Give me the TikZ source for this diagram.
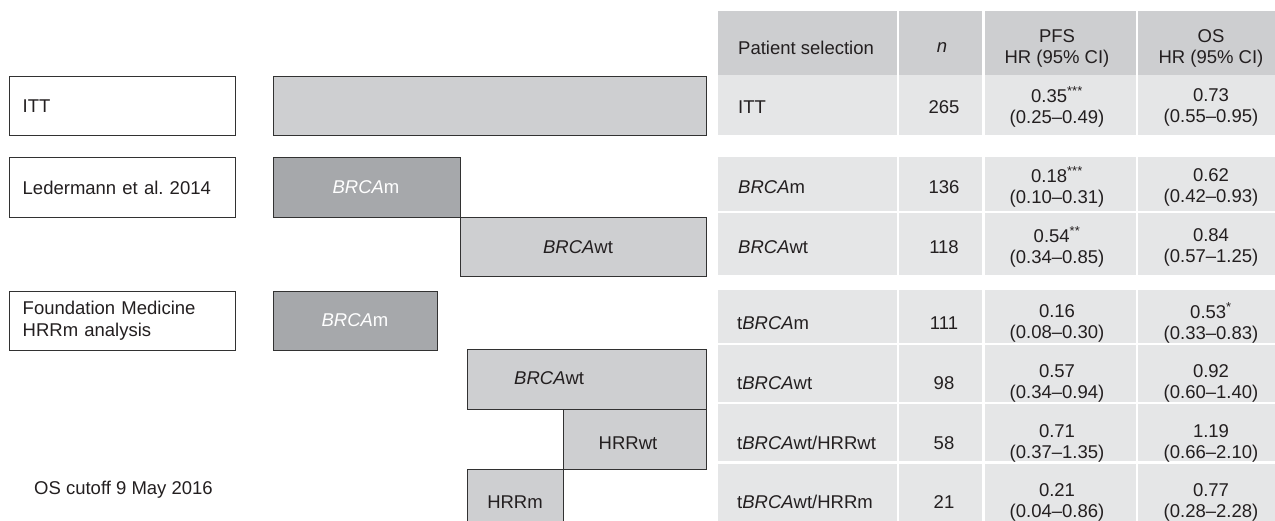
\documentclass[tikz,border=0pt]{standalone}
\usepackage{fontspec}
\setmainfont{Liberation Sans}
\definecolor{barlight}{RGB}{206,207,209}
\definecolor{bardark}{RGB}{166,168,171}
\definecolor{hdrgray}{RGB}{205,206,208}
\definecolor{bodygray}{RGB}{229,230,231}
\definecolor{edge}{RGB}{50,50,50}
\definecolor{ink}{RGB}{35,31,32}
\begin{document}
\frenchspacing
\begin{tikzpicture}[x=1bp,y=-1bp,
  font=\fontsize{18.5bp}{21bp}\selectfont, text=ink,
  lblbox/.style={draw=edge, line width=1.4bp, fill=white, anchor=north west,
    text width=200bp, inner xsep=13bp, inner ysep=0pt, align=left, minimum height=#1},
  bar/.style={draw=edge, line width=1.4bp, fill=barlight, anchor=north west, inner sep=0pt},
  darkbar/.style={bar, fill=bardark},
  cell/.style={fill=bodygray, anchor=north west, inner sep=0pt},
  hcell/.style={cell, fill=hdrgray},
  txt/.style={inner sep=0pt, align=center},
  ltxt/.style={inner sep=0pt, anchor=west},
  wtxt/.style={txt, text=white}
]
\useasboundingbox (0,0) rectangle (1275,521);

% left labels
\node[lblbox=59bp] (lITT) at (9,76) {ITT};
\node[lblbox=60bp] (lLed) at (9,157) {Ledermann et al.\ 2014};
\node[lblbox=59bp, font=\fontsize{18.5bp}{22bp}\selectfont] (lFM) at (9,291) {Foundation Medicine\\HRRm analysis};
\node[ltxt] (cutoff) at (34,490) {OS cutoff 9 May 2016};

% bars
\node[bar, minimum width=433bp, minimum height=59bp] (bITT) at (273,76) {};
\node[darkbar, minimum width=187bp, minimum height=60bp] (bLm) at (273,157) {};
\node[bar, minimum width=246bp, minimum height=59bp] (bLwt) at (460,217) {};
\node[darkbar, minimum width=164bp, minimum height=59bp] (bFm) at (273,291) {};
\node[bar, minimum width=239bp, minimum height=60bp] (bFwt) at (467,349) {};
\node[bar, minimum width=143bp, minimum height=60bp] (bHwt) at (563,409) {};
\node[bar, minimum width=96bp, minimum height=62bp] (bHm) at (467,469) {};

\node[wtxt] (tLm) at (366,187) {\textit{BRCA}m};
\node[txt] (tLwt) at (578,247) {\textit{BRCA}wt};
\node[wtxt] (tFm) at (355,320) {\textit{BRCA}m};
\node[ltxt] (tFwt) at (514,378) {\textit{BRCA}wt};
\node[txt] (tHwt) at (628,443) {HRRwt};
\node[txt] (tHm) at (515,502) {HRRm};

% table header
\node[hcell, minimum width=179bp, minimum height=64bp] (h1) at (718,11) {};
\node[hcell, minimum width=83bp, minimum height=64bp] (h2) at (899,11) {};
\node[hcell, minimum width=151bp, minimum height=64bp] (h3) at (985,11) {};
\node[hcell, minimum width=150bp, minimum height=64bp] (h4) at (1138,11) {};

% table body cells
\foreach \y/\h/\r in {75/60/a, 157/54/b, 213/62/c, 290/53/d, 345/57/e, 404/57/f, 464/58/g}{
  \node[cell, minimum width=179bp, minimum height=\h bp] (c\r1) at (718,\y) {};
  \node[cell, minimum width=83bp, minimum height=\h bp] (c\r2) at (899,\y) {};
  \node[cell, minimum width=151bp, minimum height=\h bp] (c\r3) at (985,\y) {};
  \node[cell, minimum width=150bp, minimum height=\h bp] (c\r4) at (1138,\y) {};
}

% header text
\node[ltxt] (hp) at (738,47.5) {Patient selection};
\node[txt] (hn) at (942,47.5) {\textit{n}};
\node[txt] (hpfs) at (1057,48.5) {PFS\\HR (95\% CI)};
\node[txt] (hos) at (1211,48.5) {OS\\HR (95\% CI)};

% rows
\node[ltxt] (ra1) at (738,107) {ITT};
\node[txt] (ra2) at (944,107) {265};
\node[txt] (ra3) at (1057,107) {0.35\textsuperscript{***}\\(0.25–0.49)};
\node[txt] (ra4) at (1211,107) {0.73\\(0.55–0.95)};

\node[ltxt] (rb1) at (738,187) {\textit{BRCA}m};
\node[txt] (rb2) at (944,187) {136};
\node[txt] (rb3) at (1057,187) {0.18\textsuperscript{***}\\(0.10–0.31)};
\node[txt] (rb4) at (1211,187) {0.62\\(0.42–0.93)};

\node[ltxt] (rc1) at (738,247) {\textit{BRCA}wt};
\node[txt] (rc2) at (944,247) {118};
\node[txt] (rc3) at (1057,247) {0.54\textsuperscript{**}\\(0.34–0.85)};
\node[txt] (rc4) at (1211,247) {0.84\\(0.57–1.25)};

\node[ltxt] (rd1) at (737,323) {t\textit{BRCA}m};
\node[txt] (rd2) at (944,323) {111};
\node[txt] (rd3) at (1057,323) {0.16\\(0.08–0.30)};
\node[txt] (rd4) at (1211,323) {0.53\textsuperscript{*}\\(0.33–0.83)};

\node[ltxt] (re1) at (737,383) {t\textit{BRCA}wt};
\node[txt] (re2) at (944,383) {98};
\node[txt] (re3) at (1057,383) {0.57\\(0.34–0.94)};
\node[txt] (re4) at (1211,383) {0.92\\(0.60–1.40)};

\node[ltxt] (rf1) at (737,443) {t\textit{BRCA}wt/HRRwt};
\node[txt] (rf2) at (944,443) {58};
\node[txt] (rf3) at (1057,443) {0.71\\(0.37–1.35)};
\node[txt] (rf4) at (1211,443) {1.19\\(0.66–2.10)};

\node[ltxt] (rg1) at (737,502) {t\textit{BRCA}wt/HRRm};
\node[txt] (rg2) at (944,502) {21};
\node[txt] (rg3) at (1057,502) {0.21\\(0.04–0.86)};
\node[txt] (rg4) at (1211,502) {0.77\\(0.28–2.28)};
\end{tikzpicture}
\end{document}
